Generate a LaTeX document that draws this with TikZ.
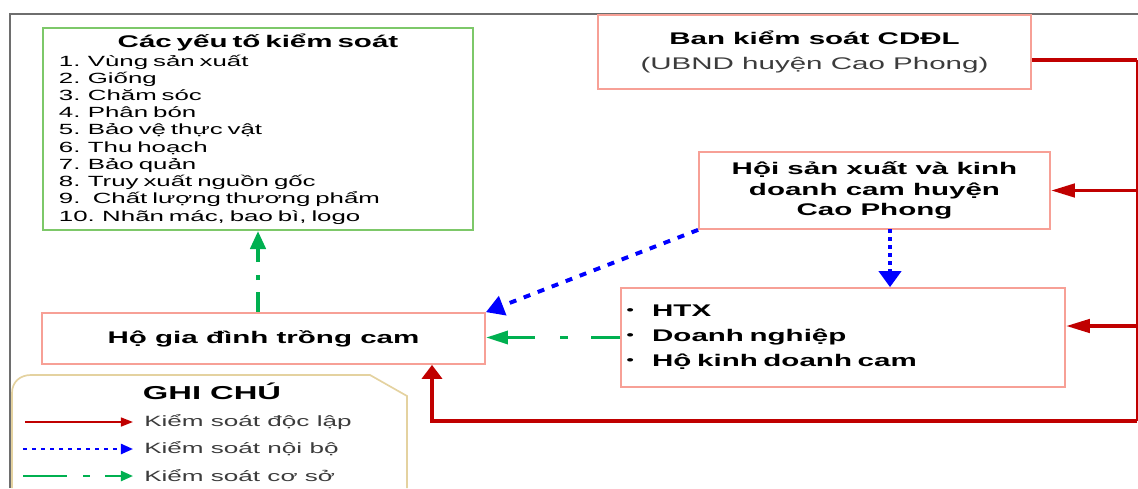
\documentclass[tikz,border=0pt]{standalone}
\usepackage{fontspec}
\setmainfont[FakeStretch=1.75]{Liberation Sans}
\usetikzlibrary{arrows.meta}
\definecolor{hongnhat}{RGB}{247,160,150}
\definecolor{dodam}{RGB}{192,0,0}
\definecolor{xanhla}{RGB}{0,176,80}
\definecolor{vienla}{RGB}{125,200,105}
\definecolor{vang}{RGB}{228,210,160}
\definecolor{xam}{RGB}{110,110,110}
\definecolor{chuxam}{RGB}{60,60,60}
\newcommand{\dong}[1]{\makebox[0.26cm]{\raisebox{1.6pt}{\mdseries\fontsize{9}{9}\selectfont •}}\hspace{0.42cm}#1}
\tikzset{hop/.style={draw=hongnhat, line width=1.2pt},
  doclap/.style={draw=dodam, line width=2.8pt, -{Triangle[length=0.6cm,width=0.33cm]}},
  noibo/.style={draw=blue, line width=2.8pt, -{Triangle[length=0.4cm,width=0.55cm]}},
  coso/.style={draw=xanhla, line width=2.8pt, -{Triangle[length=0.55cm,width=0.32cm]}},
  ghichu/.style={anchor=west, inner sep=0pt, text=chuxam, font=\fontsize{10.6}{12}\selectfont}}
\begin{document}
\begin{tikzpicture}[x=0.025cm, y=-0.025cm]
\useasboundingbox (0,0) rectangle (1138,488);
\draw [xam, line width=1.4pt] (10,488) -- (10,14) -- (1138,14);
\node [draw=vienla, line width=1.4pt, minimum width=10.75cm, minimum height=5.05cm,
  inner xsep=0.4cm, inner ysep=0pt, text width=9.95cm, align=left,
  font=\fontsize{10.5}{12.26}\selectfont] (yt) at (258,129)
  {\makebox[9.95cm]{\fontsize{12}{12}\selectfont\bfseries Các yếu tố kiểm soát}\\[1pt]
   1. Vùng sản xuất\\
   2. Giống\\
   3. Chăm sóc\\
   4. Phân bón\\
   5. Bảo vệ thực vật\\
   6. Thu hoạch\\
   7. Bảo quản\\
   8. Truy xuất nguồn gốc\\
   9.~ Chất lượng thương phẩm\\
   10. Nhãn mác, bao bì, logo};
\node [hop, minimum width=10.825cm, minimum height=1.85cm, align=center,
  font=\fontsize{12}{17.7}\selectfont] (ban) at (814.5,52)
  {\textbf{Ban kiểm soát CDĐL}\\{\color{chuxam}(UBND huyện Cao Phong)}};
\node [hop, minimum width=8.775cm, minimum height=1.925cm, align=center,
  font=\bfseries\fontsize{12}{14.5}\selectfont] (hoi) at (874.5,190.5)
  {Hội sản xuất và kinh\\doanh cam huyện\\Cao Phong};
\node [hop, minimum width=11.1cm, minimum height=2.475cm, inner xsep=0.1cm,
  text width=10.9cm, align=left, font=\bfseries\fontsize{12}{17.7}\selectfont] (htx) at (843,337.5)
  {\dong{HTX}\\\dong{Doanh nghiệp}\\\dong{Hộ kinh doanh cam}};
\node [hop, minimum width=11.075cm, minimum height=1.275cm,
  font=\bfseries\fontsize{12}{14}\selectfont] (hgd) at (263.5,338.5) {Hộ gia đình trồng cam};

\coordinate (rb) at (1137,60);
\coordinate (rc) at (1137,421);
\coordinate (rd) at (432,421);
\coordinate (rh) at (1137,326);
\coordinate (bv) at (890,229);
\draw [dodam, line width=2.8pt] (ban.east |- rb) -- (rb);
\draw [dodam, line width=1.2pt] (rb) -- (rc);
\draw [doclap] (rb |- hoi.east) -- (hoi.east);
\draw [doclap] (rh) -- (rh -| htx.east);
\draw [doclap, line width=3.5pt, -{Triangle[length=0.35cm,width=0.5cm]}] (rc) -- (rd) -- (rd |- hgd.south);
\draw [noibo, dash pattern=on 0.175cm off 0.2cm, -{Triangle[length=0.45cm,width=0.5cm]}] (hoi.south west) -- (hgd.north east);
\draw [noibo, dash pattern=on 0.09cm off 0.11cm] (bv) -- (bv |- htx.north);
\draw [coso, dash pattern=on 0.725cm off 0.575cm on 0.2cm off 0.625cm] (htx.west) -- (htx.west -| hgd.east);
\draw [coso, dash pattern=on 0.5cm off 0.3cm on 0.125cm off 0.325cm, -{Triangle[length=0.45cm,width=0.38cm]}] (yt.south |- hgd.north) -- (yt.south);

\draw [vang, line width=1.2pt] (12,488) -- (12,393) .. controls (12,382) and (20,375) .. (31,375) -- (370,375) -- (407,396) -- (407,488);
\node [font=\bfseries\fontsize{13.3}{14}\selectfont] (gc) at (212,391) {GHI CHÚ};
\node [ghichu] (l1) at (144,422) {Kiểm soát độc lập};
\node [ghichu] (l2) at (144,449) {Kiểm soát nội bộ};
\node [ghichu] (l3) at (144,476) {Kiểm soát cơ sở};
\coordinate (d1) at (25,422);
\coordinate (d2) at (23,449);
\coordinate (d3) at (23,476);
\draw [dodam, line width=1.4pt, shorten >=0.275cm, -{Triangle[length=0.3cm,width=0.22cm]}] (d1) -- (l1.west);
\draw [blue, line width=1.6pt, shorten >=0.275cm, dash pattern=on 0.1cm off 0.125cm, -{Triangle[length=0.3cm,width=0.25cm]}] (d2) -- (l2.west);
\draw [xanhla, line width=1.6pt, shorten >=0.275cm, dash pattern=on 1.1cm off 0.4cm on 0.175cm off 0.375cm on 1cm, -{Triangle[length=0.3cm,width=0.25cm]}] (d3) -- (l3.west);
\end{tikzpicture}
\end{document}
